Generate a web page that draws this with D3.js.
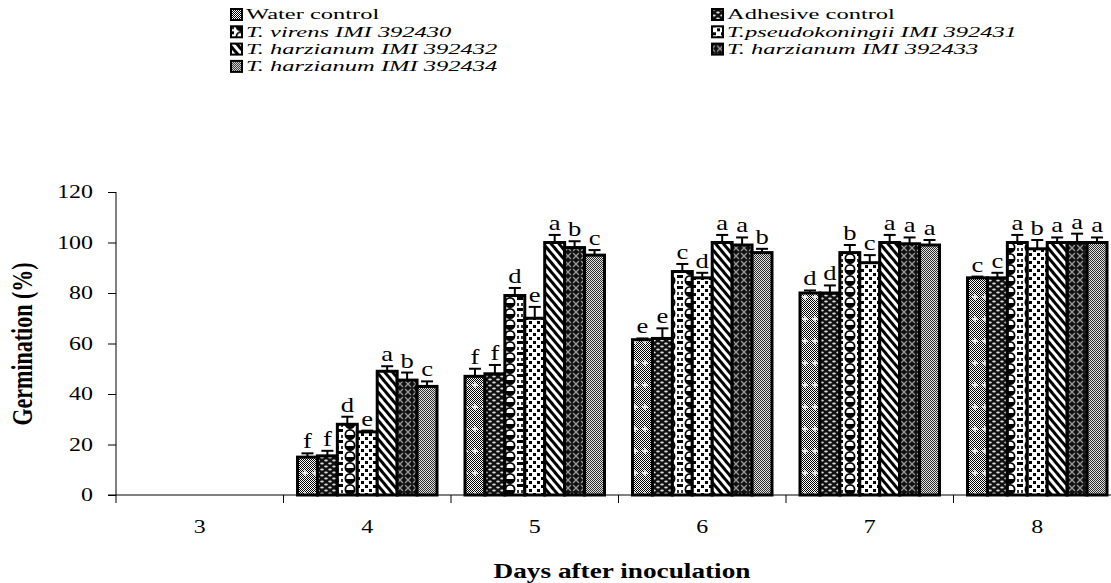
<!DOCTYPE html>
<html>
<head>
<meta charset="utf-8">
<script src="https://cdn.jsdelivr.net/npm/d3@7"></script>
<style>
  body { margin: 0; background: #fff; }
  svg { display: block; }
  svg text { font-family: "Liberation Serif", "Times New Roman", Times, serif; fill: #000; }
</style>
</head>
<body>
<div id="chart"></div>
<script>
// chart data
var days = ["3", "4", "5", "6", "7", "8"];
var seriesNames = ["Water control", "Adhesive control", "T. virens IMI 392430", "T.pseudokoningii IMI 392431",
  "T. harzianum IMI 392432", "T. harzianum IMI 392433", "T. harzianum IMI 392434"];
var italicSeries = [false, false, true, true, true, true, true];

var waterControl = [0, 15, 47, 61.5, 80, 86];
var adhesiveControl = [0, 15.5, 48, 62, 80, 86];
var virens430 = [0, 28, 79, 88.5, 96, 100];
var pseudo431 = [0, 25, 70, 86, 92, 97.5];
var harz432 = [0, 49, 100, 100, 100, 100];
var harz433 = [0, 45.5, 98, 99, 99.5, 100];
var harz434 = [0, 43, 95, 96, 99, 100];

var waterErr = [0, 1.5, 3, 0.5, 1, 0.5];
var adhesiveErr = [0, 2, 3.5, 4, 3, 2];
var virensErr = [0, 3, 3, 3, 3, 3];
var pseudoErr = [0, 0.5, 4.5, 2, 3, 3.5];
var harz432Err = [0, 2, 3, 3, 3, 2];
var harz433Err = [0, 3, 2.5, 3, 2.5, 3.5];
var harz434Err = [0, 2, 2, 1.5, 2, 2];

var waterLetters = ["", "f", "f", "e", "d", "c"];
var adhesiveLetters = ["", "f", "f", "e", "d", "c"];
var virensLetters = ["", "d", "d", "c", "b", "a"];
var pseudoLetters = ["", "e", "e", "d", "c", "b"];
var harz432Letters = ["", "a", "a", "a", "a", "a"];
var harz433Letters = ["", "b", "b", "a", "a", "a"];
var harz434Letters = ["", "c", "c", "b", "a", "a"];

var yTicks = [0, 20, 40, 60, 80, 100, 120];

var values = [waterControl, adhesiveControl, virens430, pseudo431, harz432, harz433, harz434];
var errors = [waterErr, adhesiveErr, virensErr, pseudoErr, harz432Err, harz433Err, harz434Err];
var letters = [waterLetters, adhesiveLetters, virensLetters, pseudoLetters, harz432Letters, harz433Letters, harz434Letters];

var width = 1111, height = 583;
var SX = 1.33; // the original figure is stretched sideways, so the text is too
var FONT = "Liberation Serif, Times New Roman, serif";

var svg = d3.select("#chart").append("svg")
  .attr("width", width).attr("height", height);

// ---- fill patterns (one per series) ----
var defs = svg.append("defs");

function pat(id, w, h) {
  return defs.append("pattern").attr("id", id)
    .attr("patternUnits", "userSpaceOnUse")
    .attr("width", w).attr("height", h);
}

// fine grey checker used as a base
var chk = pat("checker", 2, 2);
chk.append("rect").attr("width", 2).attr("height", 2).attr("fill", "#fff");
chk.append("rect").attr("width", 1).attr("height", 1).attr("fill", "#000");
chk.append("rect").attr("x", 1).attr("y", 1).attr("width", 1).attr("height", 1).attr("fill", "#000");

// water control: checker with white plus marks
var p0 = pat("p0", 10, 22);
p0.append("rect").attr("width", 10).attr("height", 22).attr("fill", "url(#checker)");
p0.append("path").attr("d", "M5,8V14M2,11H8").attr("stroke", "#fff").attr("stroke-width", 1.4);

// adhesive control: black with white dashes
var p1 = pat("p1", 8, 6);
p1.append("rect").attr("width", 8).attr("height", 6).attr("fill", "#111");
p1.append("ellipse").attr("cx", 2).attr("cy", 1.5).attr("rx", 1.8).attr("ry", 0.9).attr("fill", "#ddd");
p1.append("ellipse").attr("cx", 6).attr("cy", 4.5).attr("rx", 1.8).attr("ry", 0.9).attr("fill", "#ddd");

// T. virens: chain of black rings with dark lower halves
var p2 = pat("p2", 20, 11);
p2.append("rect").attr("width", 20).attr("height", 11).attr("fill", "#fff");
p2.append("circle").attr("cx", 10).attr("cy", 5.5).attr("r", 4.6)
  .attr("fill", "#fff").attr("stroke", "#000").attr("stroke-width", 1.8);
p2.append("path").attr("d", "M5.6,6A4.4,4.4 0 0 0 14.4,6Z").attr("fill", "#000");
p2.append("rect").attr("x", 0).attr("y", 0).attr("width", 3).attr("height", 3).attr("fill", "#000");
p2.append("rect").attr("x", 17).attr("y", 0).attr("width", 3).attr("height", 3).attr("fill", "#000");
p2.append("rect").attr("x", 1).attr("y", 6).attr("width", 2).attr("height", 3).attr("fill", "#333");
p2.append("rect").attr("x", 17).attr("y", 6).attr("width", 2).attr("height", 3).attr("fill", "#333");

// T. pseudokoningii: white with black square dots
var p3 = pat("p3", 8, 8);
p3.append("rect").attr("width", 8).attr("height", 8).attr("fill", "#fff");
p3.append("rect").attr("x", 1).attr("y", 1).attr("width", 3).attr("height", 3).attr("fill", "#000");
p3.append("rect").attr("x", 5).attr("y", 5).attr("width", 3).attr("height", 3).attr("fill", "#000");

// 392432: diagonal stripes
var p4 = pat("p4", 6, 6).attr("patternTransform", "rotate(-40)");
p4.append("rect").attr("width", 6).attr("height", 6).attr("fill", "#fff");
p4.append("rect").attr("width", 3).attr("height", 6).attr("fill", "#000");

// 392433: dark cross-hatch
var p5 = pat("p5", 8, 8);
p5.append("rect").attr("width", 8).attr("height", 8).attr("fill", "#111");
p5.append("path").attr("d", "M0,0L8,8M8,0L0,8").attr("stroke", "#999").attr("stroke-width", 1.3);
p5.append("path").attr("d", "M4,2V6M2,4H6").attr("stroke", "#000").attr("stroke-width", 1.2);

// 392434: plain fine grey checker
var p6 = pat("p6", 4, 4);
p6.append("rect").attr("width", 4).attr("height", 4).attr("fill", "#9a9a9a");
p6.append("rect").attr("width", 4).attr("height", 4).attr("fill", "url(#checker)").attr("opacity", 0.7);

var fills = ["url(#p0)", "url(#p1)", "url(#p2)", "url(#p3)", "url(#p4)", "url(#p5)", "url(#p6)"];

// ---- scales ----
var x0 = d3.scaleBand().domain(days).range([116, 1121]).padding(0);
var x1 = d3.scaleBand().domain(d3.range(seriesNames.length)).range([14, x0.bandwidth() - 14]).padding(0);
var y = d3.scaleLinear().domain([0, 120]).range([495, 192]);

// ---- axes ----
var yAxis = svg.append("g").attr("transform", "translate(116,0)")
  .call(d3.axisLeft(y).tickValues(yTicks).tickSize(8).tickPadding(15));
yAxis.attr("font-family", FONT);
yAxis.select(".domain").attr("stroke", "#000").attr("d", "M0," + y(120) + "V" + y(0));
yAxis.selectAll(".tick line").attr("stroke", "#000");
yAxis.selectAll(".tick text").attr("font-size", 18).attr("fill", "#000")
  .attr("font-family", FONT)
  .attr("x", -23 / SX).attr("transform", "scale(" + SX + ",1)");

var xAxis = svg.append("g").attr("transform", "translate(0,495)")
  .call(d3.axisBottom(x0).tickSize(0).tickPadding(25));
xAxis.attr("font-family", FONT);
xAxis.select(".domain").attr("stroke", "#000").attr("d", "M108,0H1121");
xAxis.selectAll(".tick text").attr("font-size", 18).attr("fill", "#000")
  .attr("font-family", FONT)
  .attr("transform", "scale(" + SX + ",1)");
// separators between day groups
xAxis.selectAll(".sep").data(days.concat(["end"]))
  .join("line").attr("class", "sep")
  .attr("x1", function (d, i) { return 116 + i * x0.step(); })
  .attr("x2", function (d, i) { return 116 + i * x0.step(); })
  .attr("y1", 0).attr("y2", 8).attr("stroke", "#000");

// axis titles
svg.append("text").attr("transform", "translate(32,344) rotate(-90) scale(1," + SX + ")")
  .attr("text-anchor", "middle").attr("font-weight", "bold").attr("font-size", 22)
  .attr("font-family", FONT)
  .text("Germination (%)");
svg.append("text").attr("transform", "translate(622,578) scale(" + SX + ",1)")
  .attr("text-anchor", "middle").attr("font-weight", "bold").attr("font-size", 20.5)
  .attr("font-family", FONT)
  .text("Days after inoculation");

// ---- bars ----
var rows = [];
days.forEach(function (day, di) {
  seriesNames.forEach(function (s, si) {
    rows.push({ day: day, si: si, v: values[si][di], e: errors[si][di], lab: letters[si][di] });
  });
});

function cx(d) { return x0(d.day) + x1(d.si) + x1.bandwidth() / 2; }

var plot = svg.append("g");

plot.selectAll("rect.bar").data(rows).join("rect").attr("class", "bar")
  .attr("x", function (d) { return x0(d.day) + x1(d.si); })
  .attr("width", x1.bandwidth())
  .attr("y", function (d) { return y(d.v); })
  .attr("height", function (d) { return y(0) - y(d.v); })
  .attr("fill", function (d) { return fills[d.si]; })
  .attr("stroke", "#000")
  .attr("stroke-width", function (d) { return d.v > 0 ? 3 : 1.2; });

// error bars (upper half)
var eb = plot.selectAll("g.err").data(rows.filter(function (d) { return d.v > 0; }))
  .join("g").attr("class", "err");
eb.append("line")
  .attr("x1", cx).attr("x2", cx)
  .attr("y1", function (d) { return y(d.v); })
  .attr("y2", function (d) { return y(d.v + d.e); })
  .attr("stroke", "#000").attr("stroke-width", 2);
eb.append("line")
  .attr("x1", function (d) { return cx(d) - 6; })
  .attr("x2", function (d) { return cx(d) + 6; })
  .attr("y1", function (d) { return y(d.v + d.e); })
  .attr("y2", function (d) { return y(d.v + d.e); })
  .attr("stroke", "#000").attr("stroke-width", 2);

// significance letters
plot.selectAll("text.lab").data(rows.filter(function (d) { return d.lab; }))
  .join("text").attr("class", "lab")
  .attr("transform", function (d) {
    return "translate(" + cx(d) + "," + (y(d.v + d.e) - 5) + ") scale(" + SX + ",1)";
  })
  .attr("text-anchor", "middle").attr("font-size", 20)
  .attr("font-family", FONT)
  .text(function (d) { return d.lab; });

// ---- legend ----
var legend = svg.append("g");
var legItems = legend.selectAll("g").data(seriesNames).join("g")
  .attr("transform", function (d, i) {
    var col = i % 2, row = Math.floor(i / 2);
    return "translate(" + (col === 0 ? 231 : 712) + "," + (14 + row * 17.3) + ")";
  });
legItems.append("rect").attr("x", 0).attr("y", -5).attr("width", 11).attr("height", 11)
  .attr("fill", function (d, i) { return fills[i]; })
  .attr("stroke", "#000").attr("stroke-width", 2);
legItems.append("text").attr("transform", "translate(15,0) scale(1.58,1)")
  .attr("dy", "0.34em")
  .attr("font-size", 15.5)
  .attr("font-family", FONT)
  .attr("font-style", function (d, i) { return italicSeries[i] ? "italic" : "normal"; })
  .text(function (d) { return d; });
</script>
</body>
</html>
